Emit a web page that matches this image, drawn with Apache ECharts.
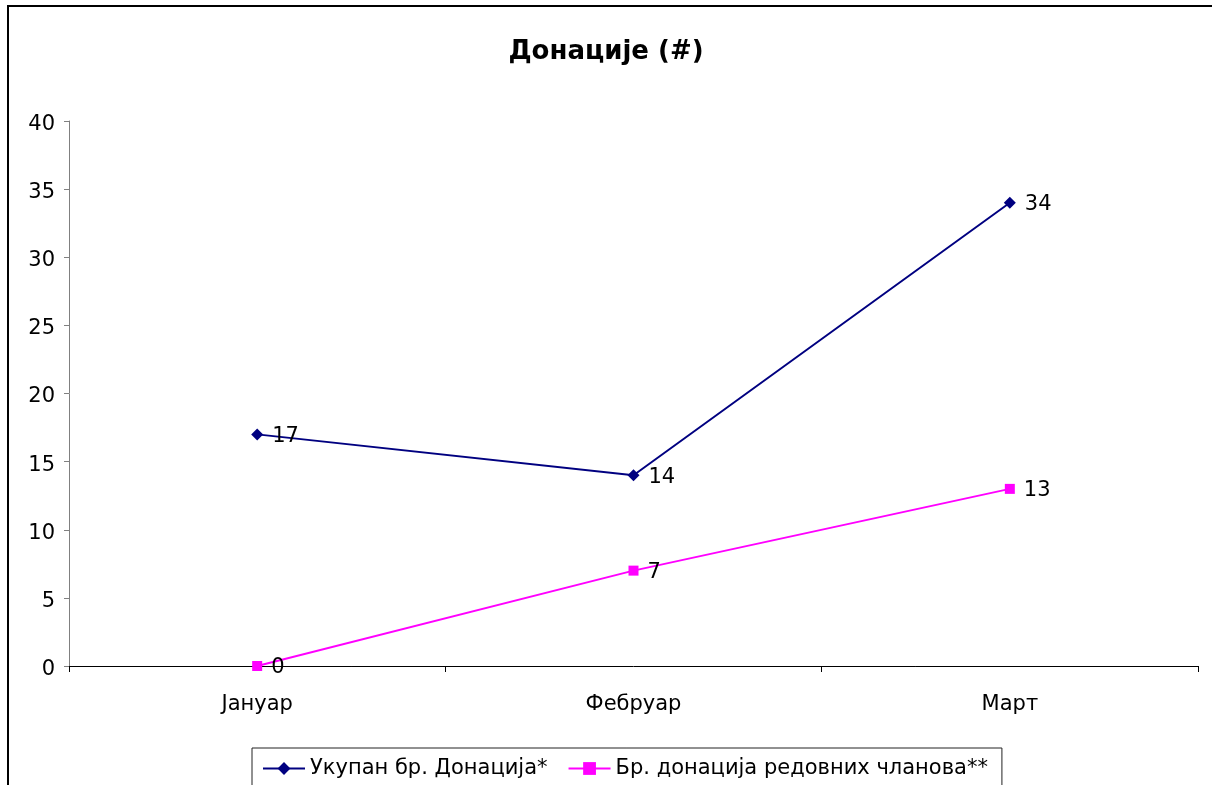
<!DOCTYPE html>
<html><head><meta charset="utf-8">
<script src="https://cdn.jsdelivr.net/npm/echarts@6/dist/echarts.min.js"></script>
<style>
html,body{margin:0;padding:0;background:#fff;overflow:hidden}
#frame{position:absolute;left:7px;top:5px;width:1300px;height:900px;border-left:2px solid #000;border-top:2px solid #000}
#c{position:absolute;left:0;top:0;width:1212px;height:785px}
</style></head>
<body>
<div id="frame"></div>
<div id="c"></div>
<script>
const categories = ['Јануар', 'Фебруар', 'Март'];
const totalDonations = [17, 14, 34];
const memberDonations = [0, 7, 13];
const seriesNames = ['Укупан бр. Донација*', 'Бр. донација редовних чланова**'];
const titleText = 'Донације (#)';

const FONT = 'DejaVu Sans';
const chart = echarts.init(document.getElementById('c'), null, {renderer: 'canvas'});
const lbl = {show: true, position: 'right', distance: 9, offset: [0, 2], color: '#000', fontSize: 21, fontFamily: FONT};
chart.setOption({
  animation: false,
  backgroundColor: 'transparent',
  title: {text: titleText, left: 'center', top: 34, textStyle: {fontFamily: FONT, fontSize: 26, fontWeight: 'bold', color: '#000'}},
  grid: {left: 69, right: 14, top: 121, bottom: 119, containLabel: false},
  legend: {
    top: 748, left: 252,
    data: seriesNames,
    borderColor: '#222', borderWidth: 1, padding: [10, 14, 20, 10],
    itemWidth: 42, itemHeight: 16, itemGap: 20,
    textStyle: {fontFamily: FONT, fontSize: 21, color: '#000'}
  },
  xAxis: {
    type: 'category', data: categories, boundaryGap: true,
    axisLine: {lineStyle: {color: '#000', width: 1}},
    axisTick: {show: true, length: 6, lineStyle: {color: '#000'}},
    axisLabel: {fontFamily: FONT, fontSize: 21, color: '#000', margin: 28},
    splitLine: {show: false}
  },
  yAxis: {
    type: 'value', min: 0, max: 40, interval: 5,
    axisLine: {show: true, lineStyle: {color: '#808080', width: 1}},
    axisTick: {show: true, length: 5, lineStyle: {color: '#808080'}},
    axisLabel: {color: '#000', margin: 14, formatter: '{a|{value}}',
      rich: {a: {fontFamily: FONT, fontSize: 21, color: '#000', padding: [7, 0, 0, 0]}}},
    splitLine: {show: false}
  },
  series: [
    {name: seriesNames[0], type: 'line', data: totalDonations,
     symbol: 'diamond', symbolSize: 12, color: '#000080',
     lineStyle: {color: '#000080', width: 2}, itemStyle: {color: '#000080'},
     label: lbl},
    {name: seriesNames[1], type: 'line', data: memberDonations,
     symbol: 'rect', symbolSize: 10, color: '#FF00FF',
     lineStyle: {color: '#FF00FF', width: 2}, itemStyle: {color: '#FF00FF'},
     label: lbl}
  ]
});
</script>
</body></html>
